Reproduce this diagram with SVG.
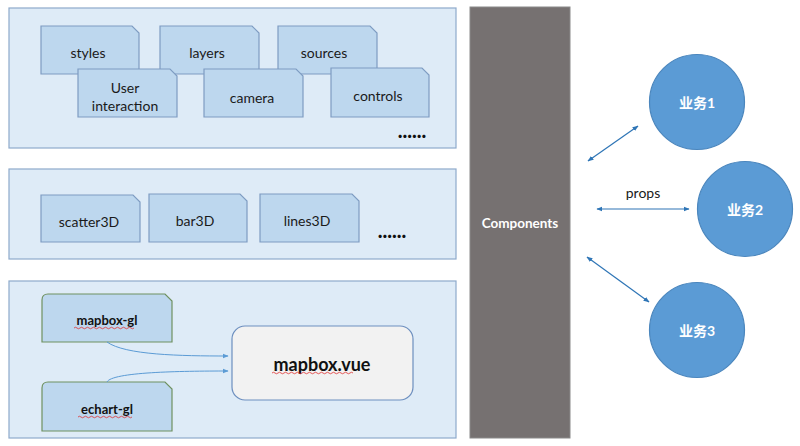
<svg xmlns="http://www.w3.org/2000/svg" width="800" height="446" viewBox="0 0 800 446">
<style>
.panel{fill:#deebf7;stroke:#8eaacb;stroke-width:1.2}
.tab{fill:#bdd7ee;stroke:#7e9cc2;stroke-width:1.2}
.gtab{fill:#bdd7ee;stroke:#6f9160;stroke-width:1.2}
.t{font-family:Lato,"Open Sans",sans-serif;font-size:14px;fill:#1a1a1a;text-anchor:middle;dominant-baseline:central}
.b{font-family:Lato,"Open Sans",sans-serif;font-weight:bold;font-size:13px;fill:#111;text-anchor:middle;dominant-baseline:central}
.dots{font-family:Lato,sans-serif;font-weight:900;font-size:20px;fill:#111;text-anchor:middle}
.circ{fill:#5b9bd5;stroke:#4b86bd;stroke-width:1.2}
.ct{font-family:Lato,"Noto Sans CJK SC",sans-serif;font-weight:bold;font-size:14px;fill:#fff;text-anchor:middle;dominant-baseline:central}
.arr{stroke:#2e75b6;stroke-width:1.2;fill:none;marker-start:url(#ah);marker-end:url(#ah)}
.carr{stroke:#5b9bd5;stroke-width:1;fill:none;marker-end:url(#ah2)}
.sq{stroke:#e03030;stroke-width:0.8;fill:none}
</style>
<defs>
<marker id="ah" viewBox="0 0 10 10" refX="9" refY="5" markerWidth="6" markerHeight="6" orient="auto-start-reverse" markerUnits="userSpaceOnUse"><path d="M0,1 L10,5 L0,9 z" fill="#2e75b6"/></marker>
<marker id="ah2" viewBox="0 0 10 10" refX="9" refY="5" markerWidth="6" markerHeight="6" orient="auto" markerUnits="userSpaceOnUse"><path d="M0,1 L10,5 L0,9 z" fill="#5b9bd5"/></marker>
</defs>

<g id="panel-top">
<rect class="panel" x="9" y="8" width="447" height="140"/>
</g>
<g id="panel-mid">
<rect class="panel" x="9" y="169" width="447" height="90"/>
</g>
<g id="panel-bot">
<rect class="panel" x="9" y="281" width="447" height="157"/>
</g>

<g id="styles"><path class="tab" d="M41,26 H132 L139,33 V74 H41 Z"/><text class="t" x="88" y="52">styles</text></g>
<g id="layers"><path class="tab" d="M160,26 H252 L259,33 V74 H160 Z"/><text class="t" x="207" y="52">layers</text></g>
<g id="sources"><path class="tab" d="M278,26 H370 L377,33 V74 H278 Z"/><text class="t" x="324" y="52">sources</text></g>
<g id="user-interaction"><path class="tab" d="M78,69 H170 L177,76 V117 H78 Z"/><text class="t" x="125" y="87">User</text><text class="t" x="125" y="105">interaction</text></g>
<g id="camera"><path class="tab" d="M204,69 H296 L303,76 V117 H204 Z"/><text class="t" x="252" y="97">camera</text></g>
<g id="controls"><path class="tab" d="M331,68 H422 L429,75 V117 H331 Z"/><text class="t" x="378" y="95">controls</text></g>
<text class="dots" x="412" y="138">......</text>

<g id="scatter3D"><path class="tab" d="M41,195 H133 L140,202 V242 H41 Z"/><text class="t" x="89" y="221">scatter3D</text></g>
<g id="bar3D"><path class="tab" d="M149,194 H240 L247,201 V242 H149 Z"/><text class="t" x="195" y="220">bar3D</text></g>
<g id="lines3D"><path class="tab" d="M260,194 H352 L359,201 V242 H260 Z"/><text class="t" x="307" y="220">lines3D</text></g>
<text class="dots" x="392" y="238">......</text>

<g id="mapbox-gl"><path class="gtab" d="M48,294 H165 L172,301 V342 H42 V300 Q42,294 48,294 Z"/><text class="b" x="107" y="320">mapbox-gl</text><path class="sq" d="M74,328 q1.5,-1.5 3,0 t3,0 t3,0 t3,0 t3,0 t3,0 t3,0 t3,0 t3,0 t3,0 t3,0 t3,0 t3,0 t3,0 t3,0 t3,0 t3,0 t3,0 t3,0 t3,0"/></g>
<g id="echart-gl"><path class="gtab" d="M48,382 H165 L172,389 V431 H42 V388 Q42,382 48,382 Z"/><text class="b" x="107" y="409">echart-gl</text><path class="sq" d="M78,417 q1.5,-1.5 3,0 t3,0 t3,0 t3,0 t3,0 t3,0 t3,0 t3,0 t3,0 t3,0 t3,0 t3,0 t3,0 t3,0 t3,0 t3,0 t3,0 t3,0"/></g>
<g id="mapbox-vue"><rect x="232" y="326" width="181" height="74" rx="13" fill="#f2f2f2" stroke="#6d8fbf" stroke-width="1.2"/><text class="b" style="font-size:18px" x="322" y="364">mapbox.vue</text><path class="sq" d="M272,373 q1.5,-1.5 3,0 t3,0 t3,0 t3,0 t3,0 t3,0 t3,0 t3,0 t3,0 t3,0 t3,0 t3,0 t3,0 t3,0 t3,0 t3,0 t3,0 t3,0 t3,0 t3,0 t3,0 t3,0 t3,0 t3,0 t3,0 t3,0 t3,0"/></g>

<g id="components"><rect x="470" y="7" width="100" height="431" fill="#767171" stroke="#8a8a8a" stroke-width="1"/><text class="ct" style="font-size:13.5px" x="520" y="223">Components</text></g>

<g id="biz1"><circle class="circ" cx="697" cy="102" r="47.5"/><text class="ct" x="697" y="102">业务1</text></g>
<g id="biz2"><circle class="circ" cx="745" cy="209" r="47.5"/><text class="ct" x="745" y="209">业务2</text></g>
<g id="biz3"><circle class="circ" cx="697" cy="330" r="47.5"/><text class="ct" x="697" y="330">业务3</text></g>

<g id="connectors">
<line class="arr" x1="588" y1="161" x2="638" y2="126"/>
<line class="arr" x1="597" y1="209" x2="689" y2="209"/>
<line class="arr" x1="587" y1="257" x2="649" y2="302"/>
<path class="carr" d="M107,342 C125,355 180,356 228,356"/>
<path class="carr" d="M107,382 C112,372 180,371 228,371"/>
</g>
<text class="t" x="643" y="192">props</text>
</svg>
